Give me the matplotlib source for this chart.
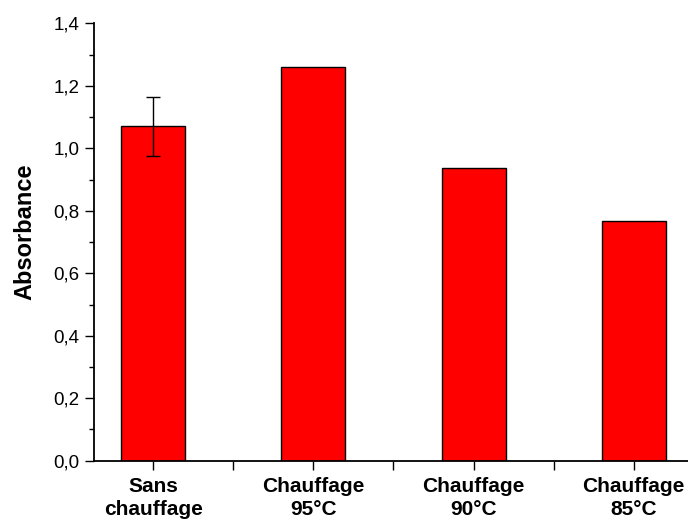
import matplotlib
matplotlib.use("Agg")
import matplotlib.pyplot as plt
from matplotlib.ticker import MultipleLocator, FuncFormatter

categories = ["Sans\nchauffage", "Chauffage\n95°C", "Chauffage\n90°C", "Chauffage\n85°C"]
values = [1.070, 1.259, 0.938, 0.766]
errors = [0.095, 0, 0, 0]
ylabel = "Absorbance"

plt.rcParams['font.family'] = ['Liberation Sans', 'DejaVu Sans']

fig = plt.figure(figsize=(6.88, 5.21), dpi=100)
ax = fig.add_axes([94/688, (521-460.7)/521, 1 - 94/688 + 0.01, (460.7-23.4)/521])

x = list(range(1, len(categories) + 1))
ax.bar(x, values, width=0.4, color="#ff0000", edgecolor="black", linewidth=1.0, zorder=2)
ax.errorbar(x[0], values[0], yerr=errors[0], fmt="none", ecolor="black",
            elinewidth=1.0, capsize=5, capthick=1.0, zorder=3)

ax.set_ylim(0, 1.4)
ax.set_xlim(1 - 59/160, 4 + 61/160)

ax.spines['top'].set_visible(False)
ax.spines['right'].set_visible(False)
ax.spines['left'].set_linewidth(1.3)
ax.spines['bottom'].set_linewidth(1.3)

ax.yaxis.set_major_locator(MultipleLocator(0.2))
ax.yaxis.set_minor_locator(MultipleLocator(0.1))
ax.yaxis.set_major_formatter(FuncFormatter(lambda v, p: f"{v:.1f}".replace(".", ",")))
ax.tick_params(axis='y', which='major', length=6.5, width=1.0, labelsize=13.5, pad=4)
ax.tick_params(axis='y', which='minor', length=3.6, width=1.0)

ax.set_xticks(x)
ax.set_xticks([1.5, 2.5, 3.5], minor=True)
ax.set_xticklabels(categories, fontsize=15, fontweight='bold', linespacing=1.3)
ax.tick_params(axis='x', which='both', length=6.5, width=1.0, pad=5)

ax.set_ylabel(ylabel, fontsize=17, fontweight='bold', labelpad=12)
ax.yaxis.label.set_y(0.523)

fig.savefig("out.png", dpi=100)
